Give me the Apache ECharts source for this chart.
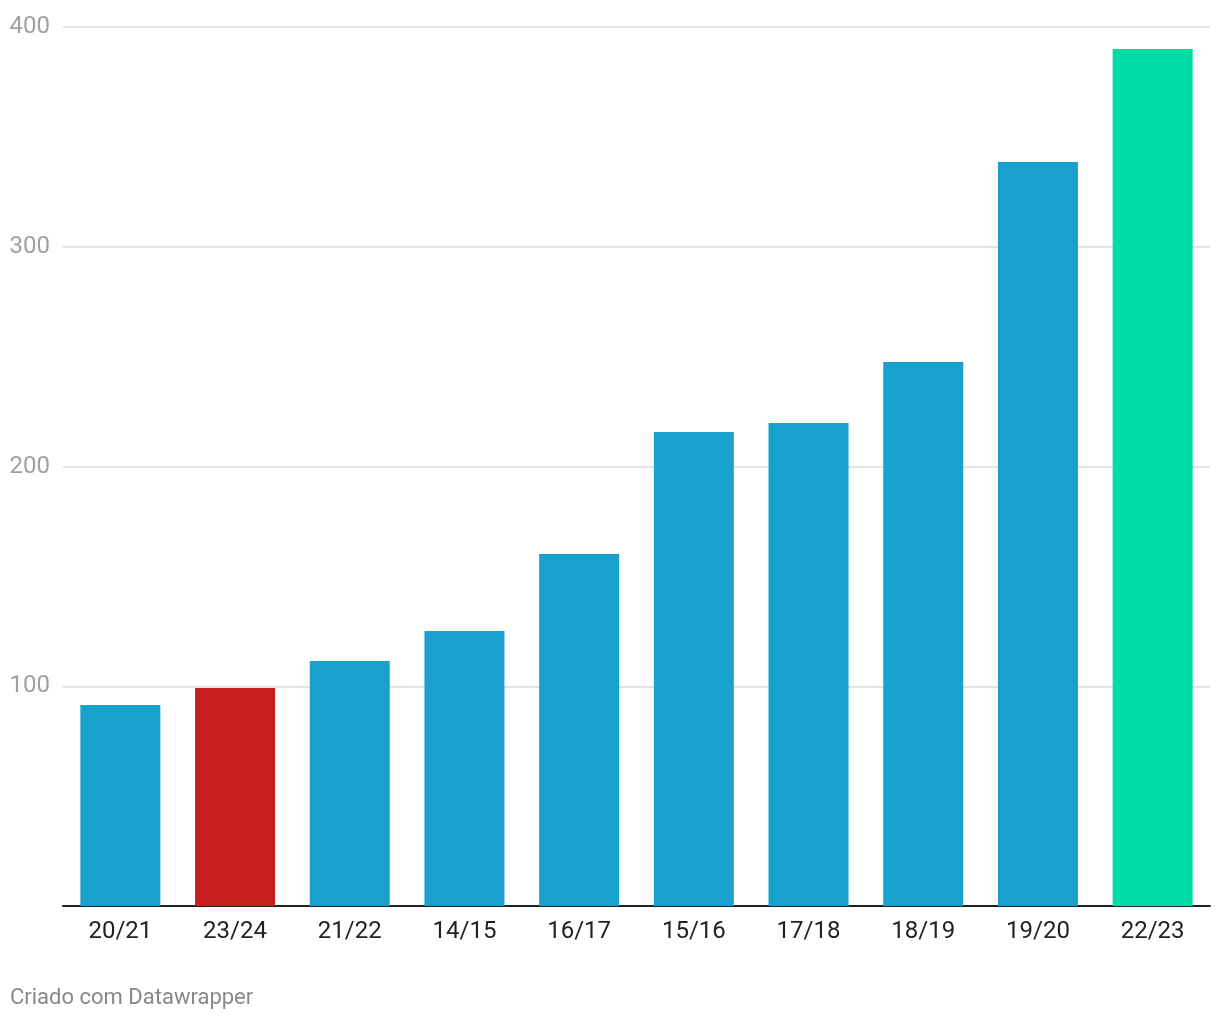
<!DOCTYPE html>
<html>
<head>
<meta charset="utf-8">
<script src="https://cdn.jsdelivr.net/npm/echarts@6/dist/echarts.min.js"></script>
<style>
  html, body { margin: 0; padding: 0; background: #fff; }
  #chart { width: 1220px; height: 1020px; }
</style>
</head>
<body>
<div id="chart"></div>
<script>
const seasons = ['20/21', '23/24', '21/22', '14/15', '16/17', '15/16', '17/18', '18/19', '19/20', '22/23'];
const values = [91.5, 99.2, 111.5, 125.1, 160.2, 215.7, 219.8, 247.6, 338.6, 390];
const barColors = ['#18a1cd', '#c71e1d', '#18a1cd', '#18a1cd', '#18a1cd', '#18a1cd', '#18a1cd', '#18a1cd', '#18a1cd', '#00dca6'];

let chart = echarts.init(document.getElementById('chart'));

let option = {
  animation: false,
  textStyle: {
    fontFamily: 'Roboto'
  },
  grid: {
    left: 63,
    right: 10,
    top: 27,
    bottom: 114
  },
  graphic: [{
    type: 'text',
    left: 10,
    top: 987,
    style: {
      text: 'Criado com Datawrapper',
      fontFamily: 'Roboto',
      fontSize: 22,
      fill: '#888888'
    }
  }],
  xAxis: {
    type: 'category',
    data: seasons,
    axisTick: { show: false },
    axisLine: {
      lineStyle: { color: '#222', width: 2 }
    },
    axisLabel: {
      color: '#222',
      fontSize: 24,
      margin: 14
    }
  },
  yAxis: {
    type: 'value',
    min: 0,
    max: 400,
    interval: 100,
    axisLabel: {
      color: '#a0a0a0',
      fontSize: 24,
      margin: 13,
      padding: [5, 0, 0, 0],
      formatter: function (v) { return v === 0 ? '' : v; }
    },
    axisLine: { show: false },
    axisTick: { show: false },
    splitLine: {
      lineStyle: { color: '#e3e3e3', width: 2 }
    }
  },
  series: [{
    type: 'bar',
    barWidth: 80,
    data: values.map(function (v, i) {
      return { value: v, itemStyle: { color: barColors[i] } };
    })
  }]
};

chart.setOption(option);
</script>
</body>
</html>
